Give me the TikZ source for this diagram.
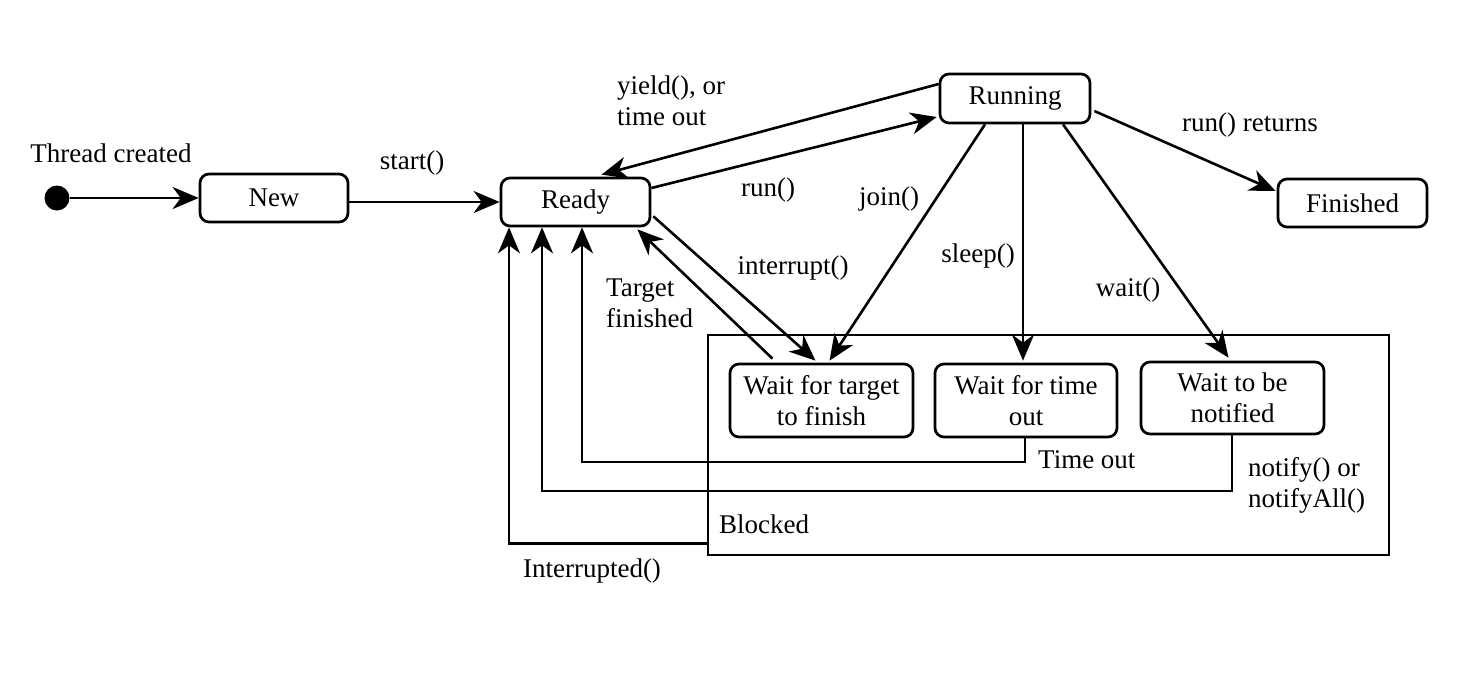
\documentclass[tikz,border=0pt]{standalone}
\usepackage{fontspec}
\setmainfont{Liberation Serif}
\usetikzlibrary{arrows.meta}
\begin{document}
\begin{tikzpicture}[x=1pt,y=-1pt,
  every node/.style={font=\fontsize{27}{31}\selectfont, inner sep=0pt},
  state/.style={draw, line width=2.7pt, rounded corners=9pt, align=center},
  arr/.style={line width=2.6pt, -{Stealth[length=26pt,width=22pt,inset=8pt]}},
  lbl/.style={align=left, anchor=west}]
\useasboundingbox (0,0) rectangle (1482,678);
% blocked container
\node[draw, line width=2.6pt, minimum width=681pt, minimum height=220pt] (blocked) at (1048.5,445) {};
\node[anchor=west] (blab) at (719,524) {Blocked};
% states
\node[circle, fill=black, minimum size=25pt] (init) at (57,198) {};
\node[state, minimum width=148pt, minimum height=48pt] (new) at (274,198) {New};
\node[state, minimum width=149pt, minimum height=48pt] (ready) at (575.5,202) {Ready};
\node[state, minimum width=150pt, minimum height=49pt] (running) at (1015,98.5) {Running};
\node[state, minimum width=149pt, minimum height=48pt] (finished) at (1352.5,203) {Finished};
\node[state, minimum width=183pt, minimum height=73pt] (wt) at (821.5,400.5) {Wait for target\\to finish};
\node[state, minimum width=182pt, minimum height=73pt] (wto) at (1026,400.5) {Wait for time\\out};
\node[state, minimum width=183pt, minimum height=72pt] (wn) at (1232.5,398) {Wait to be\\notified};
% labels
\node (l1) at (111,153) {Thread created};
\node (l2) at (412,163) {start()};
\node[lbl] (l3) at (617,101) {yield(), or\\time out};
\node (l4) at (768,190) {run()};
\node (l5) at (889,199) {join()};
\node (l6) at (793,268) {interrupt()};
\node[lbl] (l7) at (606,303) {Target\\finished};
\node (l8) at (978,256) {sleep()};
\node (l9) at (1128,290) {wait()};
\node (l10) at (1250,125) {run() returns};
\node[lbl] (l11) at (1038,460) {Time out};
\node[lbl] (l12) at (1248,485) {notify() or\\notifyAll()};
\node (l13) at (592,571) {Interrupted()};
% helper coordinates
\coordinate (rint) at ([xshift=-66.5pt]ready.south);
\coordinate (rnot) at ([xshift=-33.5pt]ready.south);
\coordinate (rto) at ([xshift=6.5pt]ready.south);
\coordinate (yto) at (0,462);
\coordinate (ynot) at (0,491);
% connectors
\draw[arr] (init) -- (new);
\draw[arr] ([yshift=-4pt]new.east) -- ([yshift=0pt]ready.west);
\draw[arr] ([yshift=14.5pt]running.west) -- ([xshift=26pt,yshift=2pt]ready.north);
\draw[arr] ([yshift=14pt]ready.east) -- ([yshift=-18.5pt,xshift=-2pt]running.west);
\draw[arr] ([xshift=2pt,yshift=11pt]ready.south east) -- ([xshift=-6pt,yshift=2pt]wt.north);
\draw[arr] ([xshift=-49pt,yshift=4pt]wt.north) -- ([xshift=-14pt,yshift=-2pt]ready.south east);
\draw[arr] ([xshift=-30pt]running.south) -- ([xshift=8pt,yshift=2pt]wt.north);
\draw[arr] ([xshift=8pt]running.south) -- ([xshift=-3pt,yshift=2pt]wto.north);
\draw[arr] ([xshift=48pt]running.south) -- ([xshift=-4pt,yshift=3pt]wn.north);
\draw[arr] ([xshift=3pt,yshift=-12.5pt]running.east) -- ([xshift=-1pt,yshift=12pt]finished.west);
\draw[arr] ([xshift=-1pt]wto.south) |- (rto |- yto) -- (rto);
\draw[arr] ([xshift=-0.5pt]wn.south) |- (rnot |- ynot) -- (rnot);
\draw[arr] ([yshift=13pt]blocked.south west) -| (rint);
\end{tikzpicture}
\end{document}
